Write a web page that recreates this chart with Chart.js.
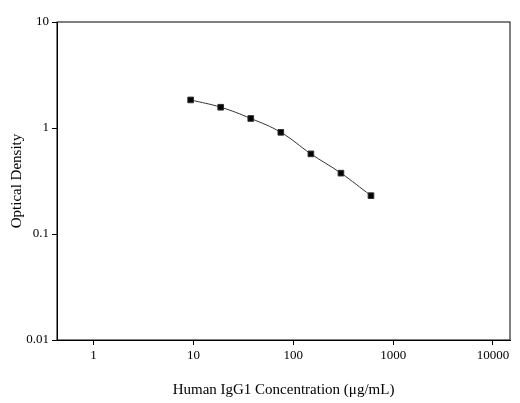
<!DOCTYPE html>
<html>
<head>
<script src="https://cdn.jsdelivr.net/npm/chart.js@4"></script>
<style>
  body { margin: 0; background: #fff; }
  #wrap { width: 520px; height: 403px; }
</style>
</head>
<body>
<div id="wrap"><canvas id="c"></canvas></div>
<script>
// concentration (µg/mL) and optical density
const concentrations = [9.375, 18.75, 37.5, 75, 150, 300, 600]
const densities = [1.84, 1.57, 1.23, 0.91, 0.57, 0.375, 0.23]
const xTickValues = [1, 10, 100, 1000, 10000]
const yTickValues = [0.01, 0.1, 1, 10]

const font = { family: "'Liberation Serif', 'Times New Roman', serif", size: 13 }

// box around the plot area
const frame = {
    id: "frame",
    afterDraw(chart) {
        const a = chart.chartArea, ctx = chart.ctx
        ctx.save()
        ctx.strokeStyle = "#000"
        ctx.lineWidth = 1
        ctx.strokeRect(a.left, a.top, a.right - a.left, a.bottom - a.top)
        ctx.restore()
    }
}

const onlyPowers = (vals) => (value) => vals.includes(value) ? String(value) : ""

new Chart(document.getElementById("c"), {
    type: "line",
    data: {
        datasets: [{
            data: concentrations.map((x, i) => ({ x: x, y: densities[i] })),
            borderColor: "#333",
            borderWidth: 1,
            backgroundColor: "#000",
            pointStyle: "rect",
            pointRadius: 4,
            tension: 0.4
        }]
    },
    options: {
        responsive: true,
        maintainAspectRatio: false,
        animation: false,
        layout: { padding: { top: 22, right: 10, left: 4, bottom: 0 } },
        plugins: { legend: { display: false }, tooltip: { enabled: false } },
        scales: {
            x: {
                type: "logarithmic",
                min: 0.43, max: 14800,
                afterFit: (s) => { s.height = 63 },
                afterBuildTicks: (s) => { s.ticks = xTickValues.map(v => ({ value: v })) },
                grid: { drawOnChartArea: false, color: "#000", tickLength: 5 },
                border: { color: "#000" },
                ticks: { color: "#000", font: font, maxRotation: 0, autoSkip: false, callback: onlyPowers(xTickValues) },
                title: { display: true, text: "Human IgG1 Concentration (μg/mL)", color: "#000",
                         font: { family: font.family, size: 15 }, padding: { top: 2 } }
            },
            y: {
                type: "logarithmic",
                min: 0.01, max: 10,
                afterFit: (s) => { s.width = 53 },
                afterBuildTicks: (s) => { s.ticks = yTickValues.map(v => ({ value: v })) },
                grid: { drawOnChartArea: false, color: "#000", tickLength: 5 },
                border: { color: "#000" },
                ticks: { color: "#000", font: font, autoSkip: false, callback: onlyPowers(yTickValues) },
                title: { display: true, text: "Optical Density", color: "#000",
                         font: { family: font.family, size: 15 } }
            }
        }
    },
    plugins: [frame]
})
</script>
</body>
</html>
